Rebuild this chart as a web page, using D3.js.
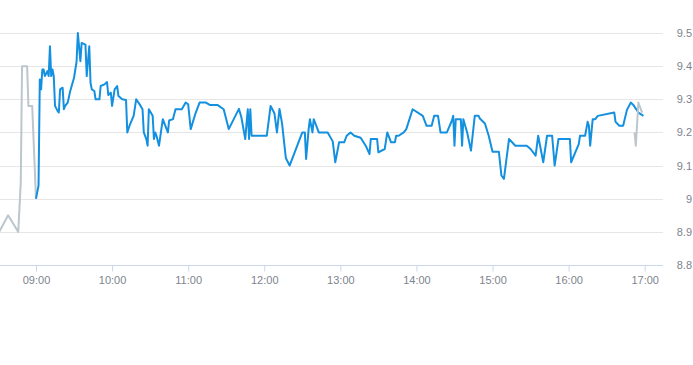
<!DOCTYPE html>
<html>
<head>
<meta charset="utf-8">
<script src="https://cdn.jsdelivr.net/npm/d3@7"></script>
<style>
  html, body { margin: 0; padding: 0; background: #fff; }
  svg { display: block; font-family: "Liberation Sans", Arial, sans-serif; }
</style>
</head>
<body>
<div id="chart"></div>
<script>
// trading session, one point per sampled minute
const mainTimes = [
  "09:00","09:02","09:03","09:04","09:05","09:06","09:07","09:09","09:10","09:11",
  "09:12","09:13","09:14","09:15","09:17","09:18","09:19","09:21","09:22","09:23",
  "09:25","09:27","09:30","09:32","09:33","09:35","09:36","09:39","09:40","09:42",
  "09:43","09:44","09:46","09:47","09:50","09:51","09:54","09:56","09:57","09:59",
  "10:00","10:02","10:04","10:05","10:08","10:11","10:12","10:14","10:17","10:19",
  "10:22","10:24","10:25","10:27","10:28","10:29","10:32","10:33","10:34","10:35",
  "10:37","10:40","10:42","10:44","10:45","10:48","10:50","10:55","10:58","11:00",
  "11:02","11:06","11:09","11:14","11:17","11:23","11:28","11:32","11:40","11:42",
  "11:45","11:47","11:48","11:49","11:50","12:02","12:05","12:08","12:10","12:12",
  "12:14","12:17","12:20","12:30","12:32","12:33","12:35","12:36","12:38","12:39",
  "12:43","12:50","12:54","12:56","12:59","13:03","13:05","13:08","13:11","13:16",
  "13:20","13:23","13:24","13:29","13:30","13:35","13:37","13:40","13:43","13:44",
  "13:46","13:50","13:52","13:57","14:05","14:08","14:12","14:14","14:17","14:19",
  "14:24","14:28","14:29","14:30","14:31","14:35","14:36","14:37","14:40","14:43",
  "14:46","14:49","14:50","14:54","14:57","15:00","15:05","15:07","15:09","15:13",
  "15:18","15:27","15:30","15:34","15:36","15:40","15:43","15:47","15:49","15:52",
  "16:01","16:02","16:08","16:09","16:13","16:15","16:16","16:17","16:19","16:21",
  "16:23","16:36","16:37","16:40","16:43","16:46","16:49","16:51","16:55","16:59"
];
const mainValues = [
  9.00,9.04,9.36,9.33,9.39,9.39,9.37,9.385,9.37,9.46,
  9.37,9.39,9.37,9.28,9.265,9.26,9.33,9.335,9.27,9.28,
  9.29,9.325,9.365,9.414,9.50,9.415,9.47,9.465,9.37,9.46,
  9.35,9.33,9.325,9.30,9.30,9.34,9.345,9.352,9.313,9.32,
  9.28,9.33,9.34,9.31,9.30,9.298,9.20,9.223,9.25,9.30,
  9.283,9.27,9.20,9.18,9.16,9.27,9.25,9.18,9.20,9.19,
  9.16,9.24,9.22,9.20,9.236,9.24,9.27,9.27,9.29,9.285,
  9.21,9.26,9.29,9.29,9.283,9.283,9.27,9.21,9.271,9.245,
  9.18,9.27,9.18,9.27,9.19,9.19,9.28,9.258,9.20,9.271,
  9.228,9.123,9.10,9.20,9.20,9.12,9.21,9.24,9.20,9.24,
  9.20,9.20,9.173,9.11,9.17,9.17,9.19,9.20,9.19,9.184,
  9.16,9.135,9.18,9.18,9.14,9.15,9.20,9.17,9.17,9.19,
  9.19,9.20,9.21,9.27,9.25,9.22,9.22,9.25,9.25,9.20,
  9.20,9.236,9.25,9.16,9.24,9.24,9.16,9.24,9.20,9.145,
  9.25,9.25,9.242,9.227,9.19,9.142,9.142,9.07,9.06,9.18,
  9.16,9.16,9.15,9.13,9.19,9.11,9.19,9.19,9.10,9.18,
  9.18,9.11,9.165,9.19,9.19,9.232,9.22,9.16,9.24,9.24,
  9.25,9.26,9.232,9.22,9.22,9.268,9.29,9.283,9.26,9.25
];

// pre-open auction and closing auction
const preTimes = ["08:31","08:38","08:46","08:48","08:49","08:53","08:54","08:57","09:00"];
const preValues = [8.90,8.95,8.90,9.05,9.40,9.40,9.28,9.28,9.00];
const closeTimes = ["16:52","16:53","16:55","16:58"];
const closeValues = [9.20,9.16,9.29,9.26];

const yTicks = [8.8, 8.9, 9.0, 9.1, 9.2, 9.3, 9.4, 9.5];
const xTicks = ["09:00","10:00","11:00","12:00","13:00","14:00","15:00","16:00","17:00"];

const width = 693, height = 365;
const plotLeft = 0, plotRight = 663, plotTop = 33, plotBottom = 265;

const parse = d3.timeParse("%H:%M");
const fmt = d3.timeFormat("%H:%M");

const x = d3.scaleTime()
    .domain([parse("09:00"), parse("17:00")])
    .range([36, 644.7]);
const y = d3.scaleLinear()
    .domain([8.8, 9.5])
    .range([plotBottom, plotTop]);

const svg = d3.select("#chart").append("svg")
    .attr("width", width)
    .attr("height", height);

svg.append("defs").append("clipPath").attr("id", "plot")
  .append("rect")
    .attr("x", plotLeft).attr("y", 0)
    .attr("width", plotRight - plotLeft).attr("height", plotBottom + 5);

// grid
svg.append("g")
  .selectAll("line")
  .data(yTicks.slice(1))
  .enter().append("line")
    .attr("x1", plotLeft).attr("x2", plotRight)
    .attr("y1", d => Math.round(y(d)) + 0.5)
    .attr("y2", d => Math.round(y(d)) + 0.5)
    .attr("stroke", "#e6e6e6")
    .attr("stroke-width", 1);

// y labels on the right
svg.append("g")
  .selectAll("text")
  .data(yTicks)
  .enter().append("text")
    .attr("x", 692)
    .attr("y", d => y(d) + 4)
    .attr("text-anchor", "end")
    .attr("fill", "#7d848d")
    .style("font-size", "11px")
    .text(d => String(+d.toFixed(1)));

// x axis
const xAxis = d3.axisBottom(x)
    .tickValues(xTicks.map(parse))
    .tickFormat(fmt)
    .tickSize(6)
    .tickPadding(5);

const gx = svg.append("g")
    .attr("transform", `translate(0,${plotBottom + 0.5})`)
    .call(xAxis);
gx.select(".domain").remove();
gx.selectAll(".tick line").attr("stroke", "#ccd6eb");
gx.selectAll(".tick text")
    .attr("fill", "#7d848d")
    .style("font-size", "11px")
    .style("font-family", "'Liberation Sans', Arial, sans-serif");
svg.append("line")
    .attr("x1", plotLeft).attr("x2", plotRight)
    .attr("y1", plotBottom + 0.5).attr("y2", plotBottom + 0.5)
    .attr("stroke", "#ccd6eb");

const line = d3.line()
    .x(d => x(parse(d[0])))
    .y(d => y(d[1]));

const lines = svg.append("g").attr("clip-path", "url(#plot)");

lines.append("path")
    .datum(d3.zip(preTimes, preValues))
    .attr("d", line)
    .attr("fill", "none")
    .attr("stroke", "#bcc6cd")
    .attr("stroke-width", 2)
    .attr("stroke-linejoin", "round");

lines.append("path")
    .datum(d3.zip(mainTimes, mainValues))
    .attr("d", line)
    .attr("fill", "none")
    .attr("stroke", "#1490e0")
    .attr("stroke-width", 2)
    .attr("stroke-linejoin", "round");

lines.append("path")
    .datum(d3.zip(closeTimes, closeValues))
    .attr("d", line)
    .attr("fill", "none")
    .attr("stroke", "#bcc6cd")
    .attr("stroke-width", 2)
    .attr("stroke-linejoin", "round");
</script>
</body>
</html>
